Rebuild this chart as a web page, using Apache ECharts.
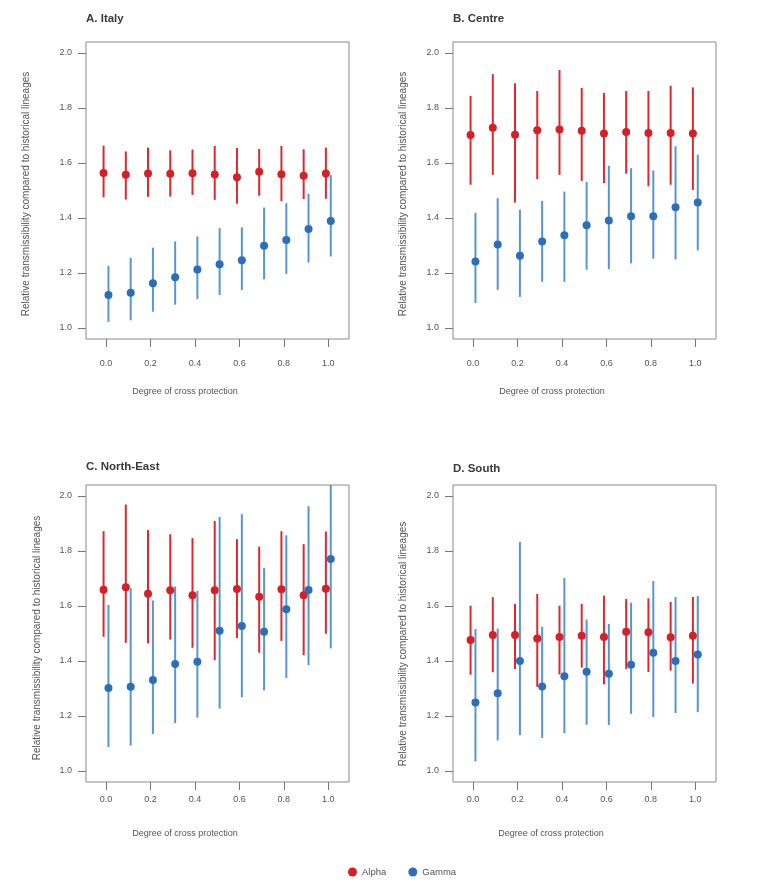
<!DOCTYPE html>
<html>
<head>
<meta charset="utf-8">
<script src="https://cdn.jsdelivr.net/npm/echarts@6/dist/echarts.min.js"></script>
<style>
html,body{margin:0;padding:0;background:#fff;}
#chart{width:761px;height:886px;}
</style>
</head>
<body>
<div id="chart"></div>
<script>
// ---- data ----
const crossProtection = [0.0, 0.1, 0.2, 0.3, 0.4, 0.5, 0.6, 0.7, 0.8, 0.9, 1.0];
const xTickValues = [0.0, 0.2, 0.4, 0.6, 0.8, 1.0];
const yTickValues = [1.0, 1.2, 1.4, 1.6, 1.8, 2.0];
const panelTitles = ['A. Italy', 'B. Centre', 'C. North-East', 'D. South'];
const xAxisTitle = 'Degree of cross protection';
const yAxisTitle = 'Relative transmissibility compared to historical lineages';

// Italy
const italyAlpha     = [1.564, 1.557, 1.562, 1.561, 1.563, 1.558, 1.548, 1.568, 1.559, 1.554, 1.562];
const italyAlphaLow  = [1.475, 1.467, 1.477, 1.478, 1.484, 1.466, 1.452, 1.481, 1.461, 1.469, 1.470];
const italyAlphaHigh = [1.663, 1.642, 1.656, 1.646, 1.649, 1.662, 1.655, 1.651, 1.662, 1.650, 1.656];
const italyGamma     = [1.120, 1.128, 1.163, 1.185, 1.213, 1.232, 1.246, 1.299, 1.320, 1.360, 1.389];
const italyGammaLow  = [1.022, 1.028, 1.059, 1.085, 1.105, 1.120, 1.138, 1.177, 1.197, 1.238, 1.260];
const italyGammaHigh = [1.226, 1.255, 1.292, 1.315, 1.333, 1.363, 1.366, 1.438, 1.454, 1.488, 1.556];

// Centre
const centreAlpha     = [1.702, 1.728, 1.703, 1.719, 1.722, 1.717, 1.707, 1.713, 1.709, 1.709, 1.707];
const centreAlphaLow  = [1.521, 1.557, 1.456, 1.541, 1.557, 1.535, 1.527, 1.561, 1.515, 1.521, 1.502];
const centreAlphaHigh = [1.844, 1.923, 1.890, 1.862, 1.938, 1.873, 1.855, 1.862, 1.862, 1.881, 1.875];
const centreGamma     = [1.242, 1.304, 1.263, 1.315, 1.337, 1.374, 1.391, 1.406, 1.406, 1.439, 1.456];
const centreGammaLow  = [1.091, 1.139, 1.113, 1.168, 1.168, 1.212, 1.214, 1.235, 1.252, 1.249, 1.282];
const centreGammaHigh = [1.419, 1.472, 1.430, 1.462, 1.496, 1.531, 1.590, 1.581, 1.573, 1.661, 1.630];

// North-East
const northEastAlpha     = [1.659, 1.668, 1.645, 1.657, 1.639, 1.657, 1.662, 1.634, 1.661, 1.639, 1.663];
const northEastAlphaLow  = [1.488, 1.466, 1.464, 1.478, 1.448, 1.403, 1.483, 1.430, 1.473, 1.421, 1.499];
const northEastAlphaHigh = [1.872, 1.969, 1.876, 1.861, 1.847, 1.909, 1.843, 1.816, 1.872, 1.825, 1.871];
const northEastGamma     = [1.302, 1.306, 1.331, 1.389, 1.397, 1.510, 1.527, 1.506, 1.588, 1.658, 1.771];
const northEastGammaLow  = [1.087, 1.093, 1.135, 1.174, 1.194, 1.227, 1.268, 1.293, 1.338, 1.385, 1.446];
const northEastGammaHigh = [1.604, 1.665, 1.620, 1.671, 1.655, 1.924, 1.934, 1.739, 1.857, 1.963, 2.080];

// South
const southAlpha     = [1.476, 1.495, 1.495, 1.482, 1.487, 1.492, 1.487, 1.506, 1.505, 1.486, 1.492];
const southAlphaLow  = [1.350, 1.359, 1.371, 1.306, 1.351, 1.376, 1.315, 1.371, 1.360, 1.365, 1.318];
const southAlphaHigh = [1.601, 1.632, 1.608, 1.644, 1.601, 1.608, 1.638, 1.626, 1.628, 1.615, 1.633];
const southGamma     = [1.249, 1.283, 1.400, 1.307, 1.345, 1.361, 1.354, 1.386, 1.430, 1.400, 1.424];
const southGammaLow  = [1.035, 1.111, 1.130, 1.120, 1.138, 1.168, 1.167, 1.208, 1.196, 1.211, 1.214];
const southGammaHigh = [1.516, 1.518, 1.833, 1.524, 1.702, 1.551, 1.535, 1.612, 1.691, 1.633, 1.636];

const panels = [
  {alpha: [italyAlpha, italyAlphaLow, italyAlphaHigh], gamma: [italyGamma, italyGammaLow, italyGammaHigh]},
  {alpha: [centreAlpha, centreAlphaLow, centreAlphaHigh], gamma: [centreGamma, centreGammaLow, centreGammaHigh]},
  {alpha: [northEastAlpha, northEastAlphaLow, northEastAlphaHigh], gamma: [northEastGamma, northEastGammaLow, northEastGammaHigh]},
  {alpha: [southAlpha, southAlphaLow, southAlphaHigh], gamma: [southGamma, southGammaLow, southGammaHigh]}
];

// ---- layout / style ----
const FONT = 'Liberation Sans';
const TEXT = '#555';
const RED = '#d42027', RED_BAR = '#da2a30';
const BLUE = '#2b6fb8', BLUE_BAR = '#5896d2';
const gridRects = [
  {left: 86, top: 42, width: 263, height: 297},
  {left: 453, top: 42, width: 263, height: 297},
  {left: 86, top: 485, width: 263, height: 297},
  {left: 453, top: 485, width: 263, height: 297}
];
const xLabelMargin = [20, 20, 13, 13];
const offset = 0.011;

const grids = [], xAxes = [], yAxes = [], series = [];
gridRects.forEach((r, i) => {
  grids.push(Object.assign({show: true, borderColor: '#8a8a8a', borderWidth: 1, backgroundColor: 'transparent'}, r));
  xAxes.push({
    type: 'value', gridIndex: i, min: -0.09, max: 1.093,
    axisLine: {show: false, onZero: false}, splitLine: {show: false},
    axisTick: {show: true, length: 8, customValues: xTickValues, lineStyle: {color: '#777'}},
    axisLabel: {customValues: xTickValues, margin: xLabelMargin[i], color: TEXT, fontFamily: FONT, fontSize: 9,
      formatter: v => v.toFixed(1)}
  });
  yAxes.push({
    type: 'value', gridIndex: i, min: 0.96, max: 2.04,
    axisLine: {show: false, onZero: false}, splitLine: {show: false},
    axisTick: {show: true, length: 8, customValues: yTickValues, lineStyle: {color: '#777'}},
    axisLabel: {customValues: yTickValues, margin: 14, color: TEXT, fontFamily: FONT, fontSize: 9,
      formatter: v => v.toFixed(1)}
  });
  const p = panels[i];
  const mk = (arr, dx) => crossProtection.map((x, k) => [x + dx, arr[0][k], arr[1][k], arr[2][k]]);
  const aData = mk(p.alpha, -offset), gData = mk(p.gamma, offset);
  const barRender = color => (params, api) => {
    const x = api.value(0);
    const a = api.coord([x, api.value(2)]);
    const b = api.coord([x, api.value(3)]);
    return {type: 'line', shape: {x1: a[0], y1: a[1], x2: b[0], y2: b[1]},
      style: {stroke: color, lineWidth: 2}};
  };
  series.push(
    {name: 'Alpha', type: 'scatter', xAxisIndex: i, yAxisIndex: i, data: aData, encode: {x: 0, y: 1},
      symbol: 'circle', symbolSize: 8, itemStyle: {color: RED, opacity: 1}, z: 5, silent: true},
    {name: 'Gamma', type: 'scatter', xAxisIndex: i, yAxisIndex: i, data: gData, encode: {x: 0, y: 1},
      symbol: 'circle', symbolSize: 8, itemStyle: {color: BLUE, opacity: 1}, z: 5, silent: true},
    {name: 'Alpha', type: 'custom', xAxisIndex: i, yAxisIndex: i, data: aData, encode: {x: 0, y: [2, 3]},
      renderItem: barRender(RED_BAR), clip: true, z: 3, silent: true, itemStyle: {color: RED}},
    {name: 'Gamma', type: 'custom', xAxisIndex: i, yAxisIndex: i, data: gData, encode: {x: 0, y: [2, 3]},
      renderItem: barRender(BLUE_BAR), clip: true, z: 3, silent: true, itemStyle: {color: BLUE}}
  );
});

const titlePos = [[86, 20], [453, 20], [86, 468], [453, 470]];
const xTitlePos = [[185, 392], [552, 392], [185, 834], [551, 834]];
const yTitlePos = [[26, 194], [403, 194], [37, 638], [403, 644]];
const graphic = [];
titlePos.forEach((pos, i) => {
  graphic.push({type: 'text', left: pos[0], top: pos[1] - 7,
    style: {text: panelTitles[i], fill: '#3a3a3a', font: 'bold 11.5px "' + FONT + '"'}});
  graphic.push({type: 'text', x: xTitlePos[i][0], y: xTitlePos[i][1],
    style: {text: xAxisTitle, fill: TEXT, font: '9px "' + FONT + '"', align: 'center', verticalAlign: 'middle'}});
  graphic.push({type: 'text', x: yTitlePos[i][0], y: yTitlePos[i][1], rotation: Math.PI / 2,
    style: {text: yAxisTitle, fill: TEXT, font: '10px "' + FONT + '"', align: 'center', verticalAlign: 'middle'}});
});

const chart = echarts.init(document.getElementById('chart'), null, {renderer: 'canvas'});
chart.setOption({
  backgroundColor: '#fff',
  animation: false,
  grid: grids, xAxis: xAxes, yAxis: yAxes, series: series,
  graphic: graphic,
  legend: {data: ['Alpha', 'Gamma'], left: 343, top: 862, icon: 'circle', itemWidth: 9, itemHeight: 9, itemGap: 22,
    selectedMode: false,
    textStyle: {color: TEXT, fontFamily: FONT, fontSize: 9.5}}
});
</script>
</body>
</html>
